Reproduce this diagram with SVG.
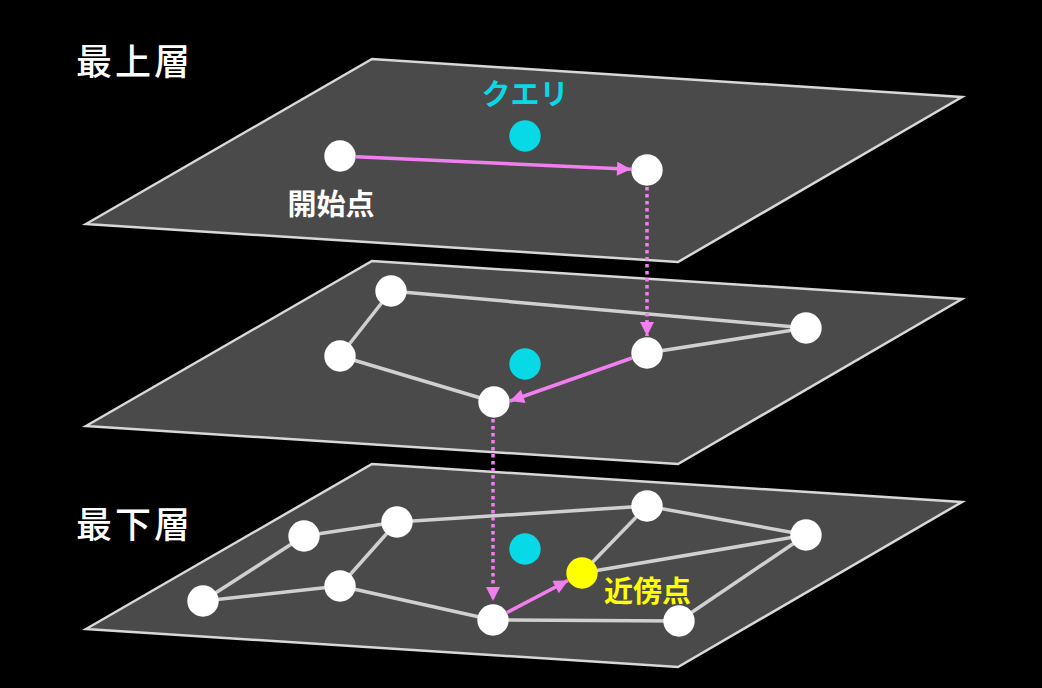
<svg xmlns="http://www.w3.org/2000/svg" width="1042" height="688" viewBox="0 0 1042 688">
<defs>
<style>
.plane{fill:#4a4a4a;stroke:#d8d8d8;stroke-width:2.5;stroke-linejoin:miter}
.edge{stroke:#d0d0d0;stroke-width:3.5;fill:none}
.path{stroke:#f27ff0;stroke-width:3.5;fill:none}
.drop{stroke:#f27ff0;stroke-width:3.5;fill:none;stroke-dasharray:3.5 3.5}
.node{fill:#ffffff}
.query{fill:#08d9e6}
.near{fill:#ffff00}
.t{font-family:"Noto Sans CJK JP","Noto Sans CJK SC",sans-serif;font-weight:bold}
.title{font-size:36px;fill:#ffffff;font-weight:500;letter-spacing:3px}
.lbl{font-size:29px}
</style>
<marker id="ah" viewBox="0 0 10 10" refX="10" refY="5" markerWidth="15" markerHeight="14" markerUnits="userSpaceOnUse" orient="auto">
<path d="M0,0 L10,5 L0,10 Z" fill="#f27ff0"/>
</marker>
</defs>
<rect width="1042" height="688" fill="#000000"/>

<g id="planes">
<polygon id="plane-top" class="plane" points="86,224 372,59 962,97 678,262"/>
<polygon id="plane-mid" class="plane" points="86,426 372,261 962,299 678,464"/>
<polygon id="plane-bottom" class="plane" points="86,629 372,464 962,502 678,667"/>
</g>

<g id="connectors">
<line class="edge" x1="391" y1="291" x2="806" y2="328"/>
<line class="edge" x1="391" y1="291" x2="340" y2="356"/>
<line class="edge" x1="340" y1="356" x2="494" y2="402"/>
<line class="edge" x1="647" y1="353" x2="806" y2="328"/>

<line class="edge" x1="203" y1="601" x2="304" y2="536"/>
<line class="edge" x1="203" y1="601" x2="340" y2="586"/>
<line class="edge" x1="304" y1="536" x2="397" y2="522"/>
<line class="edge" x1="397" y1="522" x2="340" y2="586"/>
<line class="edge" x1="397" y1="522" x2="647" y2="506"/>
<line class="edge" x1="647" y1="506" x2="806" y2="535"/>
<line class="edge" x1="647" y1="506" x2="582" y2="573"/>
<line class="edge" x1="582" y1="573" x2="806" y2="535"/>
<line class="edge" x1="340" y1="586" x2="493" y2="620"/>
<line class="edge" x1="493" y1="620" x2="679" y2="621"/>
<line class="edge" x1="679" y1="621" x2="806" y2="535"/>

<line class="path" x1="356" y1="156.7" x2="631" y2="169.3" marker-end="url(#ah)"/>
<line class="drop" x1="647" y1="187" x2="647" y2="336" marker-end="url(#ah)"/>
<line class="path" x1="632" y1="358" x2="510" y2="401" marker-end="url(#ah)"/>
<line class="drop" x1="493" y1="419" x2="493" y2="601" marker-end="url(#ah)"/>
<line class="path" x1="507" y1="612.5" x2="568" y2="580.5" marker-end="url(#ah)"/>
</g>

<g id="label-top"><text class="t title" x="76" y="75">最上層</text></g>
<g id="label-bottom"><text class="t title" x="76" y="538">最下層</text></g>

<g id="top-start"><circle class="node" cx="340" cy="156" r="15.7"/><text class="t lbl" x="331" y="215" fill="#ffffff" text-anchor="middle">開始点</text></g>
<g id="top-query"><circle class="query" cx="525" cy="136" r="15.7"/><text class="t lbl" x="525" y="105" fill="#08d9e6" text-anchor="middle">クエリ</text></g>
<g id="top-b"><circle class="node" cx="647" cy="170" r="15.7"/></g>

<g id="mid-a"><circle class="node" cx="391" cy="291" r="15.7"/></g>
<g id="mid-b"><circle class="node" cx="340" cy="356" r="15.7"/></g>
<g id="mid-c"><circle class="node" cx="494" cy="402" r="15.7"/></g>
<g id="mid-d"><circle class="node" cx="647" cy="353" r="15.7"/></g>
<g id="mid-e"><circle class="node" cx="806" cy="328" r="15.7"/></g>
<g id="mid-query"><circle class="query" cx="525" cy="364" r="15.7"/></g>

<g id="bot-a"><circle class="node" cx="203" cy="601" r="15.7"/></g>
<g id="bot-b"><circle class="node" cx="304" cy="536" r="15.7"/></g>
<g id="bot-c"><circle class="node" cx="397" cy="522" r="15.7"/></g>
<g id="bot-d"><circle class="node" cx="340" cy="586" r="15.7"/></g>
<g id="bot-e"><circle class="node" cx="493" cy="620" r="15.7"/></g>
<g id="bot-f"><circle class="node" cx="647" cy="506" r="15.7"/></g>
<g id="bot-g"><circle class="node" cx="806" cy="535" r="15.7"/></g>
<g id="bot-h"><circle class="node" cx="679" cy="621" r="15.7"/></g>
<g id="bot-query"><circle class="query" cx="525" cy="549" r="15.7"/></g>
<g id="bot-nearest"><circle class="near" cx="582" cy="573" r="15.7"/><text class="t lbl" x="604" y="602" fill="#ffff00">近傍点</text></g>
</svg>
